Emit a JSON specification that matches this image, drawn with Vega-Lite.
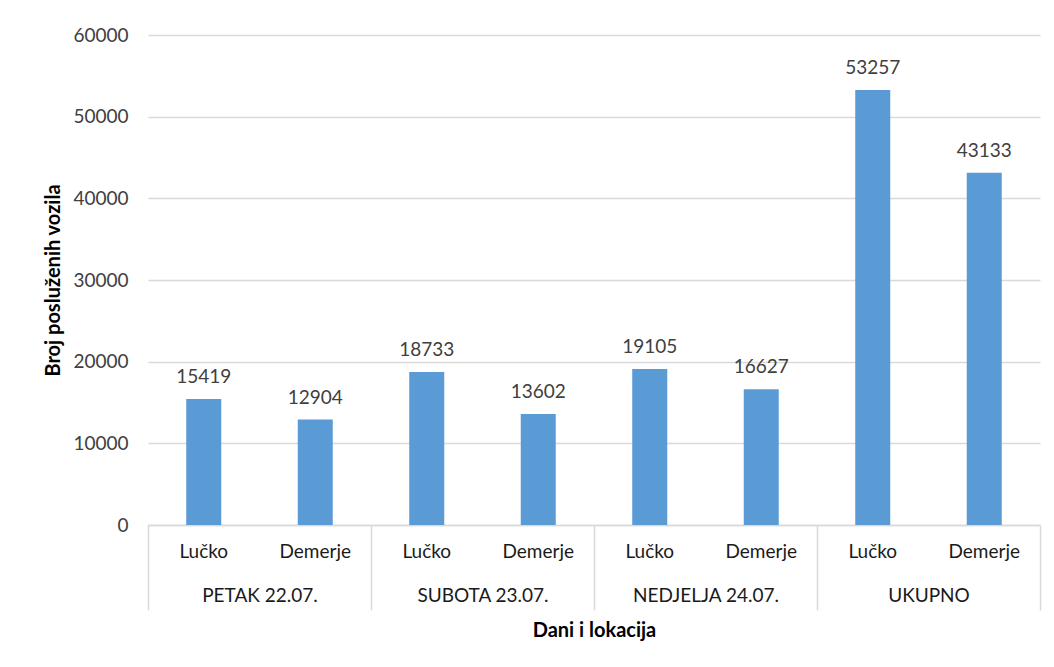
{
  "$schema": "https://vega.github.io/schema/vega-lite/v6.json",
  "width": 892,
  "height": 490,
  "autosize": "none",
  "padding": {"left": 148, "top": 35, "right": 14, "bottom": 142},
  "background": "white",
  "config": {"view": {"stroke": null}},
  "data": {
    "values": [
      {"group": "PETAK 22.07.", "location": "Lučko", "value": 15419},
      {"group": "PETAK 22.07.", "location": "Demerje", "value": 12904},
      {"group": "SUBOTA 23.07.", "location": "Lučko", "value": 18733},
      {"group": "SUBOTA 23.07.", "location": "Demerje", "value": 13602},
      {"group": "NEDJELJA 24.07.", "location": "Lučko", "value": 19105},
      {"group": "NEDJELJA 24.07.", "location": "Demerje", "value": 16627},
      {"group": "UKUPNO", "location": "Lučko", "value": 53257},
      {"group": "UKUPNO", "location": "Demerje", "value": 43133}
    ]
  },
  "encoding": {
    "x": {
      "field": "group",
      "type": "nominal",
      "sort": null,
      "scale": {"paddingInner": 0, "paddingOuter": 0},
      "axis": {
        "title": "Dani i lokacija",
        "labelAngle": 0,
        "tickBand": "extent",
        "tickSize": 85,
        "tickColor": "#d9d9d9",
        "tickWidth": 1.5,
        "domainColor": "#d9d9d9",
        "domainWidth": 1.5,
        "labelPadding": -9,
        "labelBaseline": "alphabetic",
        "labelFont": "Lato",
        "labelFontSize": 19,
        "labelColor": "#1a1a1a",
        "titleFont": "Lato",
        "titleFontSize": 20,
        "titleFontWeight": "bold",
        "titleColor": "#000000",
        "titlePadding": 10
      }
    },
    "xOffset": {
      "field": "location",
      "type": "nominal",
      "sort": ["Lučko", "Demerje"],
      "scale": {"paddingInner": 0.686, "paddingOuter": 0.343}
    }
  },
  "layer": [
    {
      "mark": {"type": "bar", "color": "#5B9BD5"},
      "encoding": {
        "y": {
          "field": "value",
          "type": "quantitative",
          "scale": {"domain": [0, 60000], "nice": false},
          "axis": {
            "values": [0, 10000, 20000, 30000, 40000, 50000, 60000],
            "format": "d",
            "title": "Broj posluženih vozila",
            "domain": false,
            "ticks": false,
            "labelPadding": 20,
            "labelFont": "Lato",
            "labelFontSize": 19,
            "labelColor": "#404040",
            "gridColor": "#d9d9d9",
            "gridWidth": 1.5,
            "titleFont": "Lato",
            "titleFontSize": 20,
            "titleFontWeight": "bold",
            "titleColor": "#000000",
            "titlePadding": 9
          }
        }
      }
    },
    {
      "mark": {"type": "text", "baseline": "alphabetic", "dy": -16, "font": "Lato", "fontSize": 19, "color": "#404040"},
      "encoding": {
        "y": {"field": "value", "type": "quantitative"},
        "text": {"field": "value", "type": "quantitative", "format": "d"}
      }
    },
    {
      "mark": {"type": "text", "baseline": "alphabetic", "dy": 33, "font": "Lato", "fontSize": 19, "color": "#1a1a1a"},
      "encoding": {
        "y": {"datum": 0},
        "text": {"field": "location", "type": "nominal"}
      }
    }
  ]
}
